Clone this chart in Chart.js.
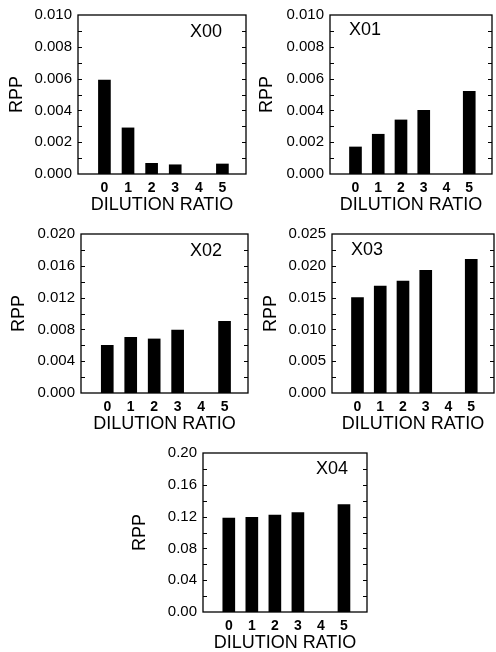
<!DOCTYPE html>
<html>
<head>
<meta charset="utf-8">
<script src="https://cdn.jsdelivr.net/npm/chart.js@4.4.1/dist/chart.umd.min.js"></script>
<style>
  html, body { margin: 0; padding: 0; background: #fff; }
  #wrap { position: relative; width: 496px; height: 652px; overflow: hidden; }
  canvas { position: absolute; }
</style>
</head>
<body>
<div id="wrap">
  <canvas id="c0" width="250" height="214" style="left:0px;top:0px"></canvas>
  <canvas id="c1" width="246" height="214" style="left:250px;top:0px"></canvas>
  <canvas id="c2" width="252" height="214" style="left:0px;top:219px"></canvas>
  <canvas id="c3" width="246" height="214" style="left:250px;top:219px"></canvas>
  <canvas id="c4" width="246" height="214" style="left:125px;top:438px"></canvas>
</div>
<script>
// dilution ratio categories (x axis)
const DILUTION = [0, 1, 2, 3, 4, 5];

// RPP values (no bar at ratio 4)
const RPP_X00 = [0.0059, 0.0029, 0.00067, 0.00058, null, 0.00063];
const RPP_X01 = [0.0017, 0.0025, 0.0034, 0.0040, null, 0.0052];
const RPP_X02 = [0.0060, 0.0070, 0.0068, 0.0079, null, 0.0090];
const RPP_X03 = [0.0150, 0.0168, 0.0176, 0.0193, null, 0.0210];
const RPP_X04 = [0.118, 0.119, 0.122, 0.125, null, 0.135];

const FONT = '"Liberation Sans", Arial, Helvetica, sans-serif';

const panels = [
  { id: 'c0', name: 'X00', data: RPP_X00, max: 0.010, step: 0.002, dec: 3, yW: 78, padR: 4, rppPad: 8, tag: { side: 'right', dx: 24, dy: 17 } },
  { id: 'c1', name: 'X01', data: RPP_X01, max: 0.010, step: 0.002, dec: 3, yW: 80, padR: 4, rppPad: 7.7, tag: { side: 'left', dx: 19, dy: 15 } },
  { id: 'c2', name: 'X02', data: RPP_X02, max: 0.020, step: 0.004, dec: 3, yW: 81, padR: 4, rppPad: 10.5, tag: { side: 'right', dx: 26, dy: 17 } },
  { id: 'c3', name: 'X03', data: RPP_X03, max: 0.025, step: 0.005, dec: 3, yW: 82, padR: 2, rppPad: 12.5, tag: { side: 'left', dx: 19, dy: 16 } },
  { id: 'c4', name: 'X04', data: RPP_X04, max: 0.20, step: 0.04, dec: 2, yW: 78, padR: 4, rppPad: 6, tag: { side: 'right', dx: 19, dy: 16 } },
];

// box frame with inward ticks on both sides + panel tag
const frame = {
  id: 'frame',
  afterDatasetsDraw(chart, args, opts) {
    const { ctx, chartArea: a, scales: { y } } = chart;
    ctx.save();
    ctx.strokeStyle = '#000';
    ctx.lineWidth = 1.3;
    ctx.strokeRect(a.left, a.top, a.right - a.left, a.bottom - a.top);
    ctx.lineWidth = 1;
    const n = Math.round(opts.max / (opts.step / 2));
    for (let i = 1; i < n; i++) {
      const py = Math.round(y.getPixelForValue(i * opts.step / 2)) + 0.5;
      ctx.beginPath();
      ctx.moveTo(a.left, py); ctx.lineTo(a.left + 4, py);
      ctx.moveTo(a.right, py); ctx.lineTo(a.right - 4, py);
      ctx.stroke();
    }
    ctx.font = '18px ' + FONT;
    ctx.fillStyle = '#000';
    ctx.textBaseline = 'middle';
    const t = opts.tag;
    if (t.side === 'right') {
      ctx.textAlign = 'right';
      ctx.fillText(opts.name, a.right - t.dx, a.top + t.dy);
    } else {
      ctx.textAlign = 'left';
      ctx.fillText(opts.name, a.left + t.dx, a.top + t.dy);
    }
    ctx.restore();
  },
};

panels.forEach((p) => {
  new Chart(document.getElementById(p.id), {
    type: 'bar',
    data: {
      datasets: [{
        data: DILUTION.map((d, i) => ({ x: d, y: p.data[i] })),
        backgroundColor: '#000',
        borderWidth: 0,
        barThickness: 12,
      }],
    },
    plugins: [frame],
    options: {
      responsive: false,
      animation: false,
      layout: { padding: { top: 14, right: p.padR, left: 0, bottom: 0 } },
      plugins: {
        legend: { display: false },
        tooltip: { enabled: false },
        frame: { max: p.max, step: p.step, name: p.name, tag: p.tag },
      },
      scales: {
        x: {
          type: 'linear',
          offset: false,
          min: -1.12,
          max: 6.0,
          grid: { display: false, drawTicks: false },
          border: { display: false },
          afterBuildTicks: (axis) => { axis.ticks = DILUTION.map((v) => ({ value: v })); },
          afterFit: (axis) => { axis.height = 40; },
          ticks: { color: '#000', padding: 6, font: { family: FONT, size: 14, weight: 'bold' } },
          title: {
            display: true,
            text: 'DILUTION RATIO',
            color: '#000',
            padding: { top: 0, bottom: 0 },
            font: { family: FONT, size: 18, lineHeight: 1 },
          },
        },
        y: {
          min: 0,
          max: p.max,
          grid: { display: false, drawTicks: false },
          border: { display: false },
          afterFit: (axis) => { axis.width = p.yW; },
          ticks: {
            stepSize: p.step,
            color: '#000',
            padding: 6,
            font: { family: FONT, size: 15 },
            callback: (v) => Number(v).toFixed(p.dec),
          },
          title: {
            display: true,
            text: 'RPP',
            color: '#000',
            padding: { top: p.rppPad, bottom: 0 },
            font: { family: FONT, size: 18, lineHeight: 1 },
          },
        },
      },
    },
  });
});
</script>
</body>
</html>
